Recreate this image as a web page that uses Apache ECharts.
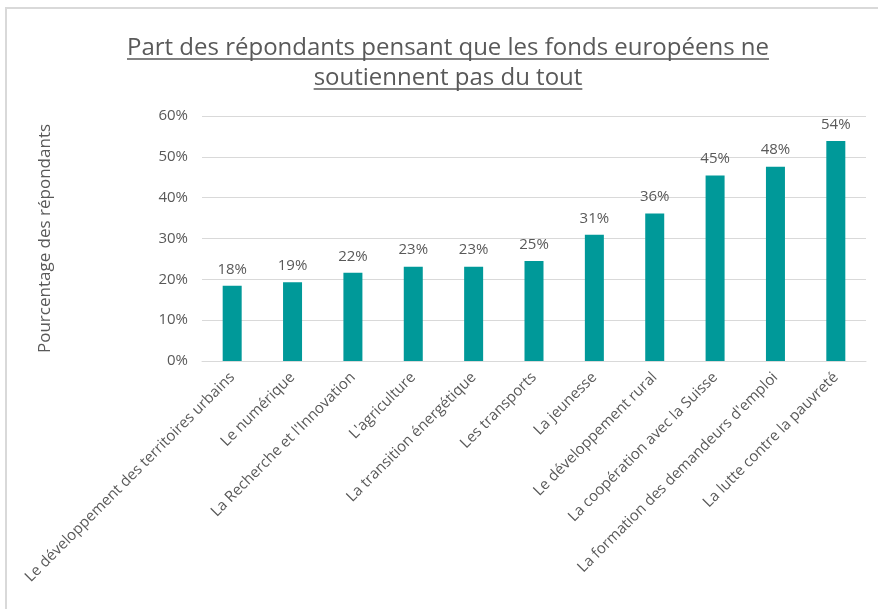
<!DOCTYPE html>
<html>
<head>
<meta charset="utf-8">
<script src="https://cdn.jsdelivr.net/npm/echarts@6/dist/echarts.min.js"></script>
<style>
  html, body { margin: 0; padding: 0; background: #fff; }
  #chart { width: 878px; height: 609px; }
</style>
</head>
<body>
<div id="chart"></div>
<script>
var categories = [
  'Le développement des territoires urbains',
  'Le numérique',
  "La Recherche et l'Innovation",
  "L'agriculture",
  'La transition énergétique',
  'Les transports',
  'La jeunesse',
  'Le développement rural',
  'La coopération avec la Suisse',
  "La formation des demandeurs d'emploi",
  'La lutte contre la pauvreté'
]
var values = [18.4, 19.3, 21.6, 23.1, 23.1, 24.5, 30.9, 36.1, 45.4, 47.6, 53.9]
var yTicks = [0, 10, 20, 30, 40, 50, 60]

var titleLines = ['Part des répondants pensant que les fonds européens ne', 'soutiennent pas du tout']
var font = '"Open Sans", sans-serif'
var titleSize = 24
var grey = '#595959'

// underline under each title line, width measured from the text
var ctx = document.createElement('canvas').getContext('2d')
ctx.font = titleSize + 'px ' + font
var underline = titleLines.map(function (line, i) {
  var w = ctx.measureText(line).width
  return {
    type: 'line',
    shape: { x1: 448 - w / 2, y1: 59 + i * 30, x2: 448 + w / 2, y2: 59 + i * 30 },
    style: { stroke: grey, lineWidth: 1.3 },
    silent: true
  }
})

var chart = echarts.init(document.getElementById('chart'))
chart.setOption({
  animation: false,
  textStyle: { fontFamily: font },
  title: {
    text: titleLines.join('\n'),
    left: 443,
    textAlign: 'center',
    top: 28,
    textStyle: { color: grey, fontSize: titleSize, fontWeight: 'normal', lineHeight: 30 }
  },
  graphic: [{
    type: 'rect',
    shape: { x: 6, y: 8, width: 900, height: 700 },
    style: { fill: 'none', stroke: '#d9d9d9', lineWidth: 2 },
    silent: true
  }].concat(underline),
  grid: { left: 202, right: 12, top: 116, bottom: 248 },
  xAxis: {
    type: 'category',
    data: categories,
    axisTick: { show: false },
    axisLine: { lineStyle: { color: '#d9d9d9' } },
    axisLabel: { rotate: 45, interval: 0, color: grey, fontSize: 15, margin: 14 }
  },
  yAxis: {
    type: 'value',
    min: 0,
    max: 60,
    interval: 10,
    name: 'Pourcentage des répondants',
    nameLocation: 'middle',
    nameGap: 148,
    nameTextStyle: { color: grey, fontSize: 17 },
    axisLine: { show: false },
    axisTick: { show: false },
    splitLine: { lineStyle: { color: '#d9d9d9' } },
    axisLabel: {
      color: grey,
      fontSize: 15,
      margin: 14,
      formatter: function (v) { return yTicks.indexOf(v) >= 0 ? v + '%' : '' }
    }
  },
  series: [{
    type: 'bar',
    data: values,
    barWidth: 19,
    itemStyle: { color: '#009999' },
    label: {
      show: true,
      position: 'top',
      distance: 9,
      color: grey,
      fontSize: 15,
      formatter: function (p) { return Math.round(p.value) + '%' }
    }
  }]
})
</script>
</body>
</html>
